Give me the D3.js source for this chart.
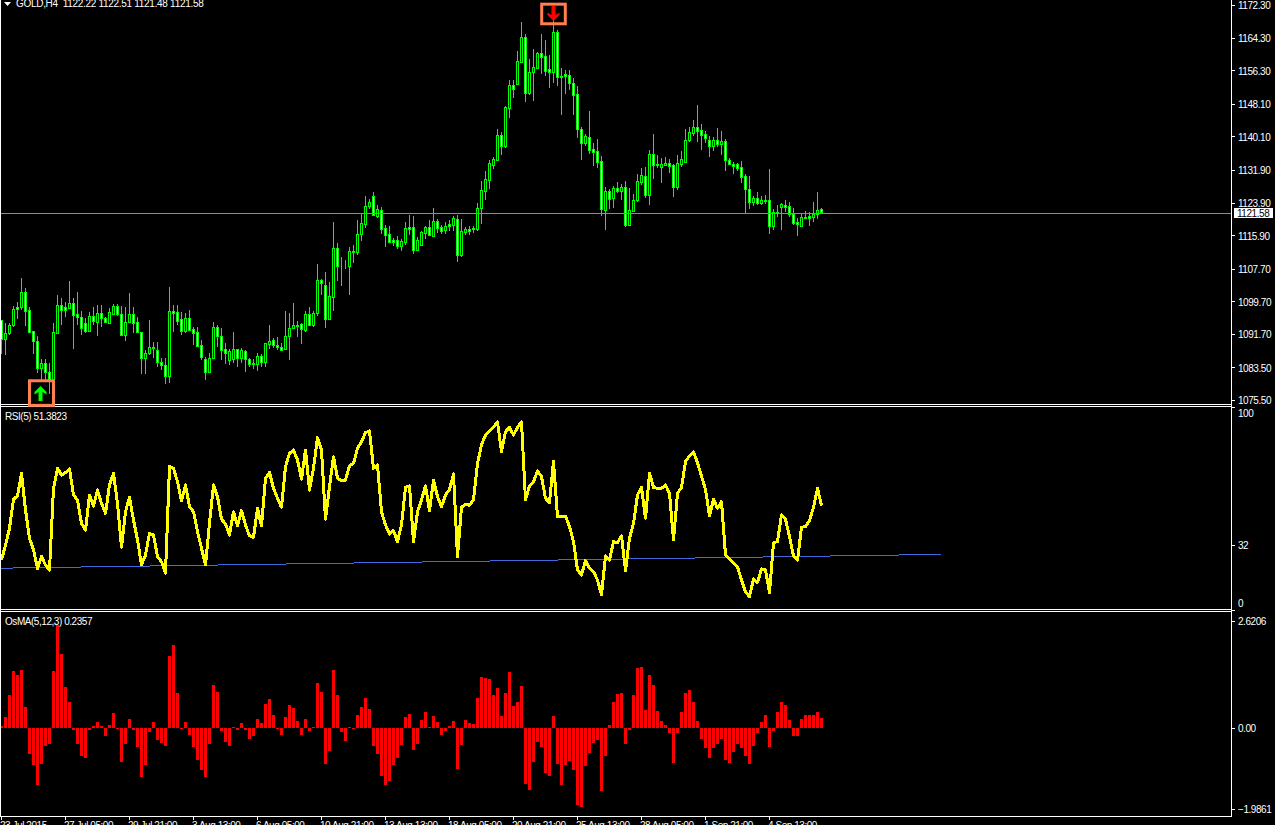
<!DOCTYPE html>
<html><head><meta charset="utf-8">
<script src="https://cdn.jsdelivr.net/npm/d3@7/dist/d3.min.js"></script>
<style>html,body{margin:0;padding:0;background:#000;overflow:hidden}svg{display:block}text{font-family:"Liberation Sans",sans-serif;font-size:10px;fill:#fff;letter-spacing:-.45px}</style>
</head><body><div id="chart"></div>
<script>
const opens=[1095.1,1090.4,1092.0,1094.0,1098.2,1098.2,1102.0,1097.5,1092.3,1089.9,1083.4,1084.6,1082.4,1080.6,1092.0,1098.7,1098.2,1098.1,1099.2,1096.5,1095.9,1094.3,1092.4,1096.0,1094.7,1096.7,1095.7,1094.4,1096.6,1098.5,1096.5,1091.5,1094.7,1096.5,1094.5,1092.2,1085.9,1086.9,1088.6,1087.7,1084.8,1084.1,1081.5,1097.2,1097.0,1095.3,1092.4,1095.5,1092.8,1092.1,1088.9,1085.5,1082.4,1085.9,1093.3,1091.3,1087.9,1085.3,1085.5,1087.9,1085.9,1087.4,1085.6,1084.5,1084.3,1086.4,1084.9,1089.2,1090.1,1088.9,1088.6,1088.1,1091.3,1093.1,1094.0,1094.1,1092.7,1096.5,1094.0,1096.7,1104.8,1103.8,1095.4,1100.8,1112.7,1108.4,1108.4,1108.4,1111.9,1111.8,1116.3,1118.7,1123.1,1125.4,1120.7,1122.0,1117.6,1116.1,1114.7,1114.6,1113.3,1114.3,1117.8,1117.8,1112.3,1113.5,1116.5,1117.8,1115.8,1119.4,1117.8,1117.2,1118.6,1118.5,1119.8,1111.1,1116.7,1117.3,1117.6,1117.5,1122.5,1126.8,1129.4,1133.1,1134.4,1140.4,1137.7,1147.1,1152.6,1153.0,1158.3,1164.5,1150.7,1156.0,1156.9,1160.5,1159.7,1156.5,1155.9,1165.6,1154.8,1155.4,1155.1,1153.3,1150.4,1141.8,1138.4,1139.9,1136.9,1136.4,1134.0,1122.1,1126.6,1125.1,1127.4,1126.8,1127.6,1118.4,1121.9,1124.5,1128.9,1130.3,1125.7,1135.8,1133.3,1132.7,1133.2,1133.7,1133.0,1127.8,1133.3,1133.8,1139.2,1140.9,1142.3,1141.6,1140.6,1139.1,1137.8,1139.1,1138.2,1138.9,1134.2,1133.3,1133.3,1132.5,1130.3,1127.1,1123.9,1124.9,1123.8,1124.4,1124.4,1118.2,1121.5,1122.8,1123.2,1123.0,1121.2,1119.0,1118.1,1120.3,1120.6,1120.3,1121.0,1122.22];
const highs=[1095.1,1094.3,1094.4,1098.5,1099.4,1105.3,1102.9,1098.2,1092.3,1091.2,1085.5,1085.5,1084.5,1094.3,1101.2,1100.4,1099.6,1104.7,1100.4,1101.9,1097.4,1095.5,1097.1,1098.2,1098.8,1098.8,1095.9,1098.0,1099.0,1099.0,1098.5,1098.4,1101.6,1098.4,1095.9,1092.2,1087.7,1095.1,1089.8,1089.8,1085.7,1085.7,1103.1,1098.8,1098.8,1097.1,1096.7,1097.5,1093.5,1093.5,1090.2,1086.1,1086.9,1094.7,1093.9,1093.1,1089.4,1087.9,1092.2,1087.9,1088.2,1087.7,1085.9,1085.5,1086.9,1086.8,1089.5,1093.9,1090.6,1090.9,1089.4,1097.3,1096.7,1099.2,1094.8,1094.3,1097.2,1098.2,1097.2,1108.8,1105.1,1106.8,1104.3,1119.1,1113.9,1110.5,1109.8,1112.9,1113.6,1119.5,1121.2,1125.4,1124.8,1126.4,1123.3,1122.9,1118.4,1118.1,1115.3,1115.7,1114.9,1119.1,1120.8,1120.6,1115.5,1117.0,1118.1,1119.6,1122.5,1119.8,1118.5,1119.1,1119.6,1120.6,1120.8,1119.8,1117.8,1118.1,1118.1,1123.7,1129.2,1131.5,1134.3,1135.0,1141.8,1141.1,1147.5,1153.9,1153.9,1161.0,1168.1,1165.1,1159.1,1161.4,1160.9,1165.2,1163.7,1160.0,1168.6,1166.2,1156.8,1156.4,1156.4,1154.3,1152.4,1142.5,1140.8,1146.3,1138.4,1139.4,1135.3,1127.6,1127.1,1127.9,1128.9,1128.4,1129.2,1127.4,1126.1,1130.9,1132.3,1132.7,1136.8,1140.7,1135.5,1134.7,1135.0,1134.5,1133.3,1135.5,1136.5,1141.8,1142.3,1144.1,1147.8,1143.1,1141.3,1140.2,1140.0,1142.2,1141.3,1139.4,1134.7,1133.9,1133.5,1134.1,1130.9,1130.4,1125.5,1126.5,1125.5,1125.7,1132.1,1122.2,1123.3,1123.7,1124.5,1124.0,1122.6,1120.0,1121.1,1121.9,1121.5,1124.1,1126.5,1122.51];
const lows=[1086.8,1086.5,1091.4,1093.5,1095.3,1097.5,1093.6,1091.8,1086.8,1082.0,1080.4,1080.0,1077.0,1080.4,1091.8,1093.9,1095.9,1098.0,1088.0,1093.9,1091.4,1091.8,1092.2,1093.9,1091.3,1093.3,1094.3,1094.1,1096.3,1096.2,1091.3,1090.0,1094.5,1091.8,1091.8,1081.9,1081.9,1086.5,1085.9,1083.7,1082.8,1079.4,1079.6,1092.2,1093.9,1091.4,1091.8,1092.5,1089.0,1088.6,1085.3,1080.4,1082.0,1085.7,1088.6,1085.3,1084.3,1084.1,1084.5,1083.5,1084.5,1082.4,1083.7,1083.2,1082.7,1083.5,1083.7,1088.0,1088.3,1087.7,1087.5,1087.9,1085.3,1093.0,1091.0,1089.3,1092.2,1093.6,1093.5,1096.1,1101.2,1093.1,1095.3,1097.3,1104.7,1103.4,1107.6,1101.2,1109.0,1111.0,1114.5,1117.6,1122.3,1120.6,1120.0,1116.2,1113.1,1113.9,1113.2,1112.5,1112.1,1113.5,1115.9,1111.3,1112.1,1113.2,1114.9,1115.7,1115.7,1116.5,1116.3,1116.2,1117.0,1116.8,1109.2,1110.5,1115.9,1115.9,1116.5,1116.9,1118.6,1124.5,1127.2,1132.1,1134.1,1135.5,1137.3,1144.7,1149.6,1152.9,1158.2,1148.6,1150.2,1148.8,1156.5,1155.4,1154.9,1152.0,1153.3,1152.4,1145.3,1150.5,1151.5,1145.3,1139.7,1134.3,1137.7,1135.8,1132.8,1132.4,1120.6,1117.2,1122.2,1122.5,1126.3,1124.5,1117.8,1118.1,1121.6,1124.0,1128.2,1124.9,1123.3,1129.6,1132.3,1128.8,1133.1,1131.2,1125.3,1127.0,1132.7,1133.7,1138.7,1140.2,1138.7,1136.8,1138.6,1135.0,1136.5,1137.6,1135.5,1131.6,1133.1,1130.9,1131.5,1128.8,1121.2,1122.4,1123.0,1123.4,1123.3,1123.5,1116.2,1117.2,1120.4,1117.2,1121.6,1120.3,1118.4,1115.7,1118.1,1119.8,1118.1,1119.0,1119.9,1121.48];
const closes=[1090.4,1091.8,1093.9,1097.7,1097.9,1102.0,1097.4,1092.2,1090.0,1083.4,1084.6,1082.4,1080.6,1092.1,1098.7,1097.5,1097.5,1099.2,1096.4,1095.9,1093.2,1092.4,1096.0,1094.9,1096.7,1095.7,1094.6,1097.0,1098.5,1096.5,1091.5,1094.7,1096.5,1094.3,1092.2,1085.9,1086.9,1088.6,1088.3,1084.9,1084.1,1081.5,1097.2,1096.9,1094.9,1092.4,1095.5,1092.7,1092.0,1088.7,1086.1,1082.4,1085.9,1093.3,1091.2,1087.8,1087.1,1087.4,1087.9,1085.9,1087.7,1085.6,1084.3,1084.4,1086.4,1084.9,1089.4,1090.0,1089.1,1088.6,1087.7,1091.3,1093.1,1094.0,1093.7,1092.8,1096.5,1093.9,1096.7,1104.8,1104.1,1095.4,1100.9,1112.7,1108.4,1108.3,1108.3,1111.9,1111.8,1116.3,1118.8,1123.1,1123.9,1120.9,1122.2,1117.5,1116.0,1114.2,1114.2,1113.3,1114.4,1117.6,1117.5,1112.3,1114.6,1116.6,1117.8,1115.9,1119.3,1117.7,1117.0,1118.1,1118.2,1120.0,1111.1,1116.8,1117.3,1117.0,1117.3,1122.5,1126.9,1129.6,1133.5,1134.5,1140.4,1137.8,1147.2,1152.6,1151.6,1158.5,1164.4,1150.8,1155.8,1157.0,1160.5,1159.6,1156.1,1156.0,1165.6,1154.7,1154.7,1155.0,1153.3,1150.3,1141.8,1138.6,1140.2,1136.8,1136.3,1133.9,1122.2,1126.7,1124.7,1127.4,1126.8,1127.6,1118.5,1122.0,1124.4,1129.1,1130.6,1125.8,1135.7,1133.2,1133.1,1133.3,1133.7,1132.9,1127.8,1133.5,1134.5,1139.1,1141.1,1142.3,1141.5,1140.4,1139.8,1137.8,1139.1,1138.2,1138.9,1134.2,1133.4,1132.8,1132.4,1130.2,1127.3,1123.9,1125.0,1123.8,1124.4,1124.3,1118.2,1121.5,1121.3,1123.5,1122.9,1121.2,1118.9,1118.7,1120.3,1120.1,1120.2,1121.1,1122.0,1121.58];
const rsiValues=[24.6,32.0,40.2,54.5,56.2,67.3,49.3,35.3,29.6,20.5,26.3,22.2,19.7,59.9,69.8,66.5,67.7,69.5,56.6,54.2,42.7,39.4,56.6,51.2,59.1,52.5,47.6,61.6,67.3,52.5,30.9,48.4,55.5,44.3,34.5,22.2,27.1,37.8,36.9,26.3,23.8,18.1,70.6,69.8,63.2,53.7,61.6,50.9,48.4,38.6,30.4,22.2,42.7,61.6,55.8,44.7,42.4,36.9,48.4,41.4,48.9,41.9,36.5,35.8,50.1,41.4,64.9,67.7,59.9,55.0,50.6,70.6,77.2,78.8,73.9,64.4,78.8,59.1,69.8,84.9,78.8,44.7,60.8,75.5,64.9,63.7,64.0,71.1,72.2,79.6,82.9,87.4,88.2,69.8,71.4,48.4,41.9,37.4,39.1,33.7,41.9,60.4,61.1,33.7,48.4,54.2,61.1,48.9,64.0,55.8,50.9,56.6,59.4,67.0,26.3,50.6,52.2,51.6,54.2,72.2,81.3,86.2,88.3,90.0,92.6,78.0,87.8,90.0,86.2,90.0,92.6,54.2,61.1,63.2,68.5,65.7,55.0,52.9,73.1,46.0,46.0,46.3,41.1,33.7,19.7,17.2,24.3,20.5,18.9,14.8,7.4,26.6,24.6,33.7,33.2,36.5,19.4,35.3,42.7,56.6,60.4,45.2,67.3,60.4,59.9,59.9,61.6,57.5,34.5,57.5,60.4,73.1,75.9,78.0,72.6,66.0,59.4,46.5,54.5,50.1,53.4,27.1,25.0,23.0,21.3,14.8,9.0,6.6,15.3,13.6,20.2,19.7,8.5,33.2,33.7,46.8,44.7,36.1,26.6,24.6,40.7,41.1,44.0,50.6,59.9,51.38];
const osmaValues=[.05,.27,.81,1.40,1.30,1.42,.51,-.64,-.91,-1.40,-.88,-.44,-.39,1.40,2.52,1.81,1.00,.64,-.05,-.39,-.69,-.74,-.05,.05,.15,.05,-.20,.07,.37,-.02,-.83,-.39,.22,-.05,-.47,-1.20,-.91,-.10,.15,-.29,-.37,-.44,1.76,2.03,.86,-.02,.15,-.17,-.47,-.78,-1.03,-1.20,-.39,1.05,.88,-.07,-.34,-.44,.02,-.05,.12,-.05,-.27,-.20,.22,.12,.59,.71,.32,-.02,-.17,.27,.56,.49,.17,-.17,.22,-.07,.02,1.10,.88,-.88,-.56,1.42,.81,-.10,-.32,.02,-.02,.32,.51,.74,.47,-.44,-.64,-1.18,-1.40,-1.30,-.91,-.74,-.42,.27,.34,-.54,-.39,.20,.39,.02,.29,.15,-.17,-.07,.05,.17,-1.00,-.42,.20,.12,.10,.74,1.25,1.23,1.20,.81,.98,.29,.86,1.37,.54,.64,1.03,-1.37,-1.52,-.83,-.34,-.47,-1.10,-1.18,.29,-.88,-1.40,-.91,-.81,-1.03,-1.89,-1.94,-.93,-.61,-.37,-.29,-1.54,-.69,.07,.64,.83,.86,-.39,-.05,.81,1.47,1.49,.44,1.30,1.05,.42,.17,.07,-.12,-.86,-.12,.39,.86,.93,.64,.17,-.27,-.49,-.74,-.49,-.39,-.27,-.78,-.86,-.59,-.39,-.49,-.69,-.88,-.44,-.12,.15,.32,-.47,-.07,.39,.64,.56,.20,-.20,-.20,.22,.32,.32,.32,.39,.2357];
const priceTicks=[1172.3,1164.3,1156.3,1148.1,1140.1,1131.9,1123.9,1115.9,1107.7,1099.7,1091.7,1083.5,1075.5];
const rsiTicks=[100,32,0];
const osmaTicks=[2.6206,0,-1.9861];
const timeTickBars=[0,16,32,48,64,80,96,112,128,144,160,176,192];
const timeTickLabels=["23 Jul 2015","27 Jul 05:00","29 Jul 21:00","3 Aug 13:00","6 Aug 05:00","10 Aug 21:00","13 Aug 13:00","18 Aug 05:00","20 Aug 21:00","25 Aug 13:00","28 Aug 05:00","1 Sep 21:00","4 Sep 13:00"];
const trendBars=[0,235];
const trendRsi=[20.6,27.4];
const lastPrice=1121.58;
const signalBars=[10,138];
const signalPrices=[1077.2,1170.1];
const signalDirs=["up","down"];

const W=1275,H=825,axisX=1232;
const svg=d3.select("#chart").append("svg").attr("width",W).attr("height",H);
svg.append("rect").attr("width",W).attr("height",H).attr("fill","#000");
const defs=svg.append("defs");
[["cMain",0,404],["cRsi",408,202],["cOsma",613,203]].forEach(([id,y,h])=>defs.append("clipPath").attr("id",id).append("rect").attr("x",0).attr("y",y).attr("width",axisX).attr("height",h));

const x=d3.scaleLinear().domain([0,205]).range([1.5,821.5]);
const yP=d3.scaleLinear().domain([1075.5,1172.3]).range([400,5]);
const yR=d3.scaleLinear().domain([0,100]).range([610,407]);
const yO=d3.scaleLinear().domain([-1.9861,2.6206]).range([809,621]);
const bars=d3.range(closes.length);
const GREEN="#00ff00";

// candles
const gC=svg.append("g").attr("clip-path","url(#cMain)").attr("shape-rendering","crispEdges");
gC.selectAll("rect.w").data(bars).join("rect").attr("class","w")
 .attr("x",i=>Math.floor(x(i))).attr("width",1)
 .attr("y",i=>Math.round(yP(highs[i]))).attr("height",i=>Math.max(1,Math.round(yP(lows[i]))-Math.round(yP(highs[i]))))
 .attr("fill",GREEN);
gC.selectAll("rect.b").data(bars).join("rect").attr("class","b")
 .attr("x",i=>Math.floor(x(i))-0.5).attr("width",2)
 .attr("y",i=>Math.round(yP(Math.max(opens[i],closes[i])))+.5)
 .attr("height",i=>Math.abs(Math.round(yP(opens[i]))-Math.round(yP(closes[i]))))
 .attr("fill",i=>closes[i]>=opens[i]?"#000":"#fff").attr("stroke",GREEN);

// last-price line
svg.append("rect").attr("x",0).attr("width",axisX).attr("y",Math.round(yP(lastPrice))+1).attr("height",1).attr("fill","#8c8c8c");

// RSI
const gR=svg.append("g").attr("clip-path","url(#cRsi)");
gR.append("path").attr("d",d3.line().x((d,i)=>x(trendBars[i])).y(d=>yR(d))(trendRsi))
 .attr("fill","none").attr("stroke","#4169e1").attr("stroke-width",1).attr("shape-rendering","crispEdges");
gR.append("path").datum(rsiValues).attr("d",d3.line().x((d,i)=>x(i)).y(d=>yR(d)))
 .attr("fill","none").attr("stroke","#ffff00").attr("stroke-width",3).attr("stroke-linejoin","round").attr("shape-rendering","crispEdges");

// OsMA
svg.append("g").attr("clip-path","url(#cOsma)").attr("shape-rendering","crispEdges")
 .selectAll("rect").data(bars).join("rect")
 .attr("x",i=>x(i)-1.5).attr("width",3)
 .attr("y",i=>Math.round(Math.min(yO(osmaValues[i]),yO(0))))
 .attr("height",i=>Math.max(1,Math.round(Math.abs(yO(osmaValues[i])-yO(0)))))
 .attr("fill","#ff0000");

// frames
const line=(x1,y1,x2,y2)=>svg.append("line").attr("x1",x1).attr("y1",y1).attr("x2",x2).attr("y2",y2).attr("stroke","#fff").attr("shape-rendering","crispEdges");
line(.5,0,.5,816);
line(axisX-.5,0,axisX-.5,816);
[404.5,406.5,609.5,611.5,816.5].forEach(y=>line(0,y,axisX,y));

// axes
function yAxis(scale,ticks,fmt){
 const g=svg.append("g").attr("transform",`translate(${axisX},0)`).call(d3.axisRight(scale).tickValues(ticks).tickSize(3).tickPadding(3).tickFormat(fmt));
 g.select(".domain").remove();
 g.selectAll("line").attr("stroke","#fff").attr("shape-rendering","crispEdges");
 g.selectAll("text").attr("fill","#fff").attr("y",.7).style("font-family","'Liberation Sans',sans-serif").style("font-size","10px");
 return g;
}
yAxis(yP,priceTicks,d3.format(".2f"));
const ra=yAxis(yR,rsiTicks,d3.format("d"));
ra.selectAll(".tick").filter(d=>d===100).select("text").attr("y",6);
ra.selectAll(".tick").filter(d=>d===0).select("text").attr("y",-7);
yAxis(yO,osmaTicks,d=>d===0?"0.00":d3.format(".4f")(d));

const xa=svg.append("g").attr("transform","translate(0,817)").call(d3.axisBottom(x).tickValues(timeTickBars).tickSize(3).tickPadding(2).tickFormat((d,i)=>timeTickLabels[i]));
xa.select(".domain").remove();
xa.selectAll("line").attr("stroke","#fff").attr("shape-rendering","crispEdges").attr("transform","translate(-0.5,0)");
xa.selectAll("text").attr("text-anchor","start").attr("x",-2).attr("y",5).attr("dy","0.71em").attr("fill","#fff").style("font-family","'Liberation Sans',sans-serif").style("font-size","10px");

// last price tag
svg.append("rect").attr("x",axisX+2).attr("y",Math.round(yP(lastPrice))-4).attr("width",39).attr("height",10).attr("fill","#fff");
svg.append("text").attr("x",axisX+5).attr("y",yP(lastPrice)+4.8).style("fill","#000").text(d3.format(".2f")(lastPrice));

// headings
svg.append("path").attr("d",d3.line()([[4,2],[11,2],[7.5,6]])+"Z").attr("fill","#fff");
svg.append("text").attr("x",16).attr("y",6.5).attr("xml:space","preserve").style("letter-spacing","-.3px").text(`GOLD,H4  ${opens[205]} ${highs[205]} ${lows[205]} ${closes[205]}`);
svg.append("text").attr("x",5).attr("y",419.5).text("RSI(5) 51.3823");
svg.append("text").attr("x",5).attr("y",625).text("OsMA(5,12,3) 0.2357");

// signal markers
const arrow=[[0,-7],[6,-1],[6,1.5],[2,-1],[2,8],[-2,8],[-2,-1],[-6,1.5],[-6,-1]];
signalBars.forEach((b,k)=>{
 const up=signalDirs[k]==="up",cx=x(b),cy=yP(signalPrices[k]);
 const hw=up?12:11.8,hh=up?12.3:9.8;
 svg.append("rect").attr("x",cx-hw).attr("y",cy-hh).attr("width",hw*2).attr("height",hh*2).attr("fill","none").attr("stroke","#ff7f50").attr("stroke-width",3);
 svg.append("path").attr("transform",`translate(${cx-(up?1:0)},${cy}) scale(1,${up?1:-1})`).attr("d",d3.line()(arrow)+"Z").attr("fill",up?GREEN:"#ff0000");
});
</script></body></html>
